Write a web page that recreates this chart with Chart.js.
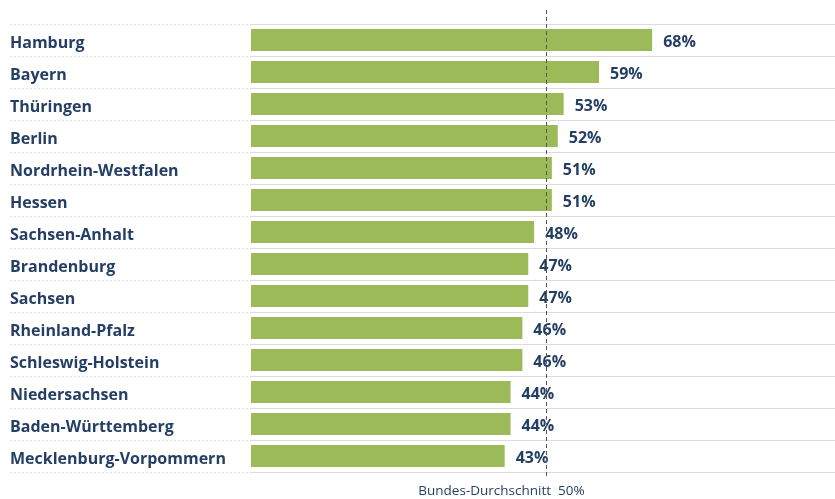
<!DOCTYPE html>
<html>
<head>
<meta charset="utf-8">
<script src="https://cdn.jsdelivr.net/npm/chart.js@4"></script>
<style>
  html, body { margin: 0; padding: 0; background: #fff; }
  #wrap { width: 835px; height: 499px; }
</style>
</head>
<body>
<div id="wrap"><canvas id="myChart"></canvas></div>
<script>
// my data
const laender = ['Hamburg', 'Bayern', 'Thüringen', 'Berlin', 'Nordrhein-Westfalen', 'Hessen',
  'Sachsen-Anhalt', 'Brandenburg', 'Sachsen', 'Rheinland-Pfalz', 'Schleswig-Holstein',
  'Niedersachsen', 'Baden-Württemberg', 'Mecklenburg-Vorpommern']
const anteile = [68, 59, 53, 52, 51, 51, 48, 47, 47, 46, 46, 44, 44, 43]
const bundesSchnitt = 50
const schnittLabel = 'Bundes-Durchschnitt  50%'

const textColor = '#243f63'
const fontFam = "'Open Sans', sans-serif"

// value labels at the end of each bar + dashed average line
const extras = {
  id: 'extras',
  afterDatasetsDraw(chart) {
    const ctx = chart.ctx
    const meta = chart.getDatasetMeta(0)
    ctx.save()
    ctx.fillStyle = textColor
    ctx.font = 'bold 16px ' + fontFam
    ctx.textAlign = 'left'
    ctx.textBaseline = 'middle'
    meta.data.forEach((bar, i) => {
      ctx.fillText(anteile[i] + '%', bar.x + 11, bar.y + 2)
    })
    // average line
    const x = Math.round(chart.scales.x.getPixelForValue(bundesSchnitt)) + 0.5
    ctx.strokeStyle = '#555'
    ctx.lineWidth = 1
    ctx.setLineDash([4, 3])
    ctx.beginPath()
    ctx.moveTo(x, 10)
    ctx.lineTo(x, 478)
    ctx.stroke()
    ctx.setLineDash([])
    ctx.font = '13.5px ' + fontFam
    ctx.textAlign = 'center'
    ctx.fillText(schnittLabel, x - 45, 491)
    ctx.restore()
  }
}

const config = {
  type: 'bar',
  data: {
    labels: laender,
    datasets: [{
      data: anteile,
      backgroundColor: '#9bbb59',
      borderWidth: 0,
      barPercentage: 0.69,
      categoryPercentage: 1
    }]
  },
  plugins: [extras],
  options: {
    indexAxis: 'y',
    responsive: true,
    maintainAspectRatio: false,
    animation: false,
    layout: { padding: { left: 10, right: 0, top: 24, bottom: 27 } },
    plugins: {
      legend: { display: false },
      tooltip: { enabled: false }
    },
    scales: {
      x: {
        display: false,
        min: 0,
        max: 99
      },
      y: {
        afterFit(scale) { scale.width = 241 },
        border: { display: false },
        grid: {
          color: '#dcdcdc',
          borderDash: [2, 2],
          tickBorderDash: [2, 2],
          tickColor: '#dcdcdc',
          tickLength: 241,
          drawTicks: true
        },
        ticks: {
          crossAlign: 'far',
          labelOffset: 3,
          color: textColor,
          font: { family: fontFam, size: 16, weight: 'bold' }
        }
      }
    }
  }
}

const myChart = new Chart(document.getElementById('myChart'), config)
</script>
</body>
</html>
